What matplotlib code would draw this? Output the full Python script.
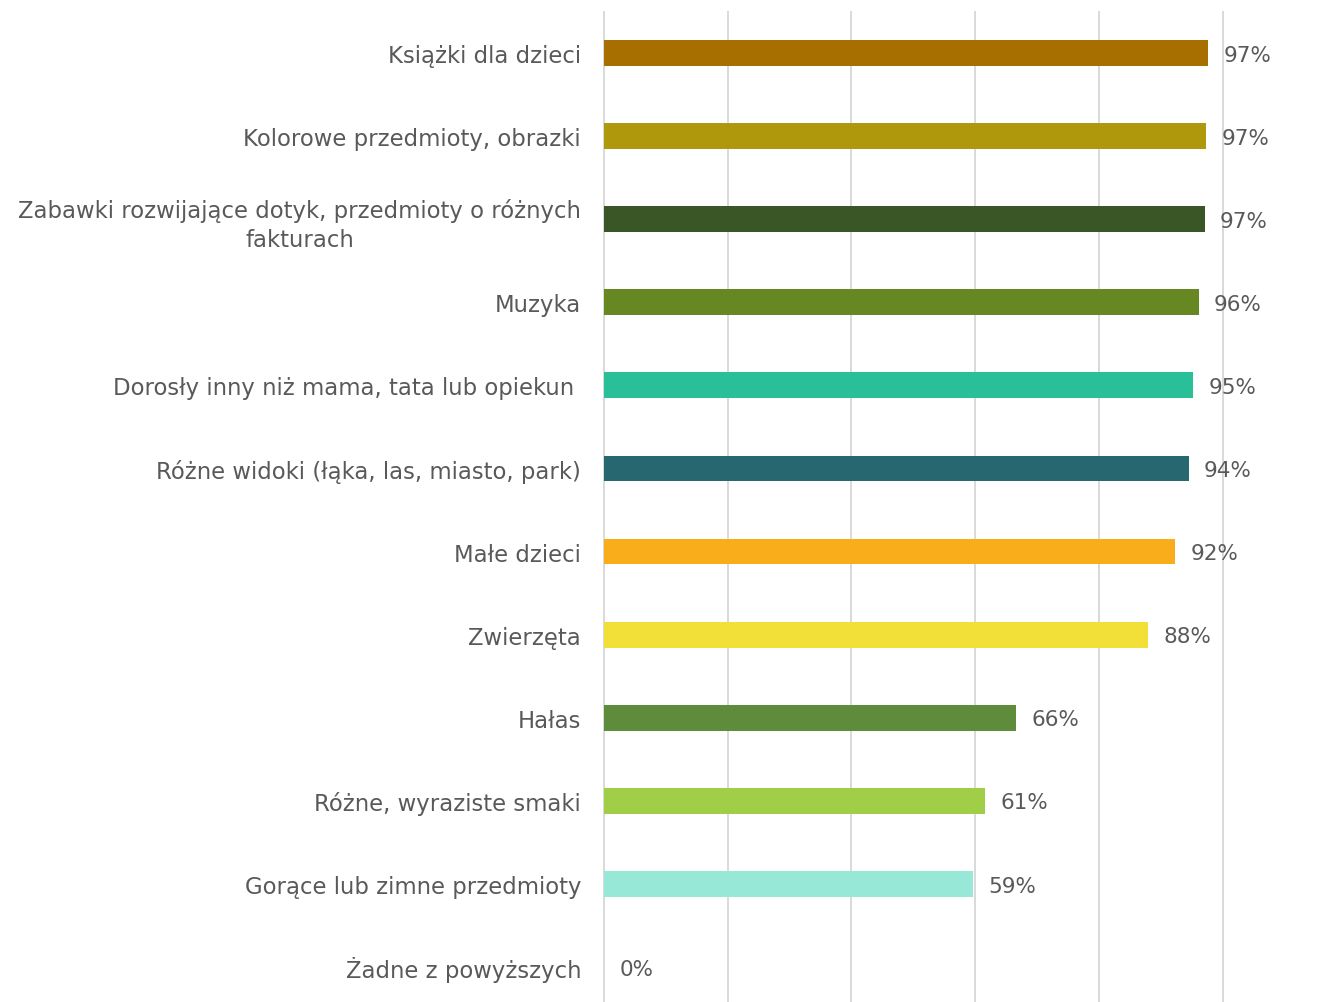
import matplotlib
matplotlib.use("Agg")
import matplotlib.pyplot as plt

categories = [
    "Książki dla dzieci",
    "Kolorowe przedmioty, obrazki",
    "Zabawki rozwijające dotyk, przedmioty o różnych\nfakturach",
    "Muzyka",
    "Dorosły inny niż mama, tata lub opiekun ",
    "Różne widoki (łąka, las, miasto, park)",
    "Małe dzieci",
    "Zwierzęta",
    "Hałas",
    "Różne, wyraziste smaki",
    "Gorące lub zimne przedmioty",
    "Żadne z powyższych",
]
values = [97.6, 97.3, 97.1, 96.1, 95.2, 94.5, 92.3, 87.9, 66.6, 61.6, 59.6, 0.0]
value_labels = ["97%", "97%", "97%", "96%", "95%", "94%", "92%", "88%", "66%", "61%", "59%", "0%"]
colors = ["#A66F00", "#B0980C", "#3A5526", "#668722", "#29BF98", "#276870",
          "#FAAD1B", "#F2DF38", "#5F8C3A", "#A1CE47", "#98E8D7", "#98E8D7"]

plt.rcParams['font.family'] = ['DejaVu Sans']
text_color = "#595959"

fig = plt.figure(figsize=(13.36, 10.03), dpi=100)
W, H = 1336, 1003
x0, x1 = 604, 1222.7
ytop, ybot = 12.5, 1009.5
ax = fig.add_axes([x0 / W, 1 - ybot / H, (x1 - x0) / W, (ybot - ytop) / H])

y = list(range(len(categories)))
ax.barh(y, values, height=0.31, color=colors, zorder=3)
ax.set_xlim(0, 100)
ax.set_ylim(len(categories) - 0.5, -0.5)

ax.set_xticks([0, 20, 40, 60, 80, 100])
ax.grid(axis='x', color='#D9D9D9', linewidth=1.4, zorder=0)
for gl in ax.get_xgridlines():
    gl.set_clip_on(False)
ax.tick_params(axis='x', length=0, labelbottom=False)
ax.set_yticks(y)
ax.set_yticklabels(categories, fontsize=16.4, color=text_color, multialignment='center',
                   linespacing=1.3)
ax.tick_params(axis='y', length=0, pad=16.5)
for s in ax.spines.values():
    s.set_visible(False)

for yi, v, lab in zip(y, values, value_labels):
    ax.annotate(lab, xy=(v, yi), xytext=(11, -1.2), textcoords='offset points',
                ha='left', va='center', fontsize=15.5, color=text_color)

fig.savefig("out.png", dpi=100)
